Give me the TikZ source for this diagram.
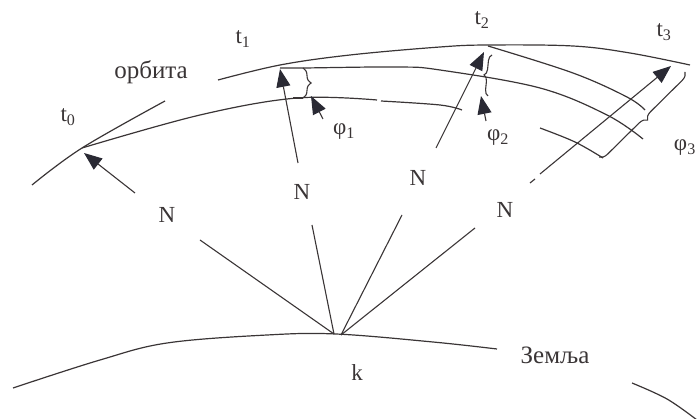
\documentclass[tikz,border=0pt]{standalone}
\usepackage{fontspec}
\setmainfont{Liberation Serif}
\usetikzlibrary{arrows.meta,decorations.pathreplacing}
\definecolor{ink}{HTML}{3A3536}
\definecolor{head}{HTML}{2A2A34}
\begin{document}
\begin{tikzpicture}[x=1pt,y=-1pt,
  curve/.style={draw=ink,line width=1.2pt},
  vec/.style={draw=ink,line width=1.1pt,-{Triangle[length=18pt,width=14pt,color=head]}},
  ray/.style={draw=ink,line width=1.1pt},
  lbl/.style={text=ink,font=\fontsize{23}{26}\selectfont,inner sep=0pt},
  big/.style={text=ink,font=\fontsize{25}{28}\selectfont,inner sep=0pt},
  brc/.style={draw=ink,line width=1.1pt,decorate,decoration={brace,amplitude=8pt}}]
\useasboundingbox (0,0) rectangle (697,419);

% orbit curves
\draw[curve] plot[smooth,tension=0.6] coordinates {(32,185) (82,148) (165,101)};
\draw[curve] plot[smooth,tension=0.6] coordinates {(82,148) (200,115) (297,98) (377,100)};
\draw[curve] plot[smooth,tension=0.6] coordinates {(381,101) (440,105) (462,110)};
\draw[curve] plot[smooth,tension=0.6] coordinates {(218,80) (280,65) (350,55) (440,47) (488,45) (573,46) (630,53) (690,65)};
\draw[curve] plot[smooth,tension=0.6] coordinates {(280,68) (303,68) (397,67) (440,70) (540,88) (607,115) (643,139)};
\draw[curve] plot[smooth,tension=0.6] coordinates {(488,46) (573,73) (627,97) (645,110)};
\draw[curve] plot[smooth,tension=0.6] coordinates {(540,128) (575,142) (603,158)};

% Earth
\draw[curve] plot[smooth,tension=0.6] coordinates {(13,388) (100,360) (167,343) (267,335) (336,334) (433,342) (497,349)};
\draw[curve] plot[smooth,tension=0.6] coordinates {(632,383) (667,399) (697,420)};

% points
\coordinate (k1) at (334,334);
\coordinate (k2) at (341,335);
\coordinate (n1) at (200,240);
\coordinate (n2) at (312,225);
\coordinate (n3) at (402,215);
\coordinate (n4) at (475,228);
\draw[ray] (k1) -- (n1);
\draw[ray] (k1) -- (n2);
\draw[ray] (k2) -- (n3);
\draw[ray] (k2) -- (n4);

% vectors
\coordinate (a0s) at (135,193); \coordinate (a0e) at (84,153);
\coordinate (a1s) at (298,163); \coordinate (a1e) at (280,69);
\coordinate (f1s) at (323,119); \coordinate (f1e) at (311,96);
\coordinate (a2s) at (436,148); \coordinate (a2e) at (484,52);
\coordinate (f2s) at (486,121); \coordinate (f2e) at (481,96);
\coordinate (a3d) at (530,183); \coordinate (a3c) at (535,179);
\coordinate (a3s) at (540,174); \coordinate (a3e) at (671,66);
\draw[vec] (a0s) -- (a0e);
\draw[vec] (a1s) -- (a1e);
\draw[vec] (f1s) -- (f1e);
\draw[vec] (a2s) -- (a2e);
\draw[vec] (f2s) -- (f2e);
\draw[ray] (a3d) -- (a3c);
\draw[vec] (a3s) -- (a3e);

% braces
\coordinate (b1t) at (303,68); \coordinate (b1b) at (303,98);
\draw[brc] (b1t) -- (b1b);
\draw[ray] (293,98) -- (b1b);
\coordinate (b2t) at (492,55); \coordinate (b2b) at (488,96);
\draw[brc,decoration={brace,amplitude=6pt}] (b2b) -- (b2t);
\coordinate (b3t) at (685,72); \coordinate (b3b) at (599,157);
\draw[brc] (b3t) -- (b3b);

% labels
\node[lbl] (t0) at (68,117) {t\textsubscript{0}};
\node[lbl] (t1) at (243,39) {t\textsubscript{1}};
\node[lbl] (t2) at (482,20) {t\textsubscript{2}};
\node[lbl] (t3) at (664,32) {t\textsubscript{3}};
\node[big] (orb) at (151,72) {орбита};
\node[lbl] (p1) at (344,132) {φ\textsubscript{1}};
\node[lbl] (p2) at (498,138) {φ\textsubscript{2}};
\node[lbl,anchor=east] (p3) at (696,148) {φ\textsubscript{3}};
\node[lbl] (N1) at (167,215) {N};
\node[lbl] (N2) at (302,192) {N};
\node[lbl] (N3) at (418,178) {N};
\node[lbl] (N4) at (505,210) {N};
\node[lbl] (k) at (357,373) {k};
\node[big] (zem) at (555,355) {Земља};
\end{tikzpicture}
\end{document}
